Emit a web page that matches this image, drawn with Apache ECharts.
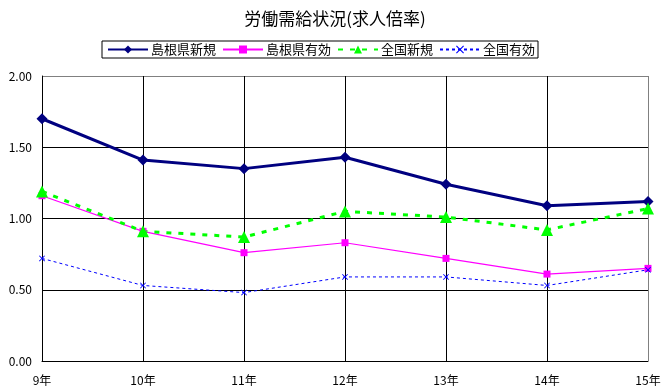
<!DOCTYPE html>
<html><head><meta charset="utf-8">
<script src="https://cdn.jsdelivr.net/npm/echarts@6/dist/echarts.min.js"></script>
<style>html,body{margin:0;padding:0;background:#fff}#c{width:670px;height:392px}</style>
</head><body><div id="c"></div>
<script>
const categories = ['9年','10年','11年','12年','13年','14年','15年'];
const shimaneNew = [1.70, 1.41, 1.35, 1.43, 1.24, 1.09, 1.12];
const shimaneActive = [1.16, 0.91, 0.76, 0.83, 0.72, 0.61, 0.65];
const nationalNew = [1.19, 0.91, 0.87, 1.05, 1.01, 0.92, 1.07];
const nationalActive = [0.72, 0.53, 0.48, 0.59, 0.59, 0.53, 0.64];
const seriesNames = ['島根県新規','島根県有効','全国新規','全国有効'];

const font = '"Noto Sans CJK JP", "Noto Sans", sans-serif';
const xMark = 'path://M0,1L1,0L5,4L9,0L10,1L6,5L10,9L9,10L5,6L1,10L0,9L4,5Z';

const chart = echarts.init(document.getElementById('c'));
chart.setOption({
  animation: false,
  backgroundColor: '#fff',
  textStyle: { fontFamily: font, color: '#000' },
  title: {
    text: '労働需給状況(求人倍率)', left: 'center', top: 5,
    textStyle: { fontFamily: font, fontSize: 17, fontWeight: 'normal', color: '#000' }
  },
  legend: {
    top: 41, left: 102, width: 600,
    padding: [2, 3, 2, 5],
    borderColor: '#000', borderWidth: 1,
    itemWidth: 40, itemHeight: 10, itemGap: 6,
    textStyle: { fontFamily: font, fontSize: 13, color: '#000', padding: [0, 0, 0, -2] },
    data: seriesNames
  },
  grid: { left: 42, right: 22, top: 76, bottom: 31 },
  xAxis: {
    type: 'category', data: categories, boundaryGap: false,
    axisLine: { lineStyle: { color: '#000', width: 1 } },
    axisTick: { show: false },
    axisLabel: { color: '#000', fontSize: 12, fontFamily: font, margin: 13 },
    splitLine: { show: true, lineStyle: { color: ['#000','#000','#000','#000','#000','#000','#808080'], width: 1 } }
  },
  yAxis: {
    type: 'value', min: 0, max: 2, interval: 0.5,
    axisLine: { show: true, lineStyle: { color: '#000', width: 1 } },
    axisTick: { show: false },
    axisLabel: { color: '#000', fontSize: 12, fontFamily: font, margin: 10,
      formatter: v => v.toFixed(2) },
    splitLine: { show: true, lineStyle: { color: ['#000','#000','#000','#000','#808080'], width: 1 } }
  },
  series: [
    { name: seriesNames[0], type: 'line', data: shimaneNew,
      symbol: 'diamond', symbolSize: 11,
      itemStyle: { color: '#000080' }, lineStyle: { color: '#000080', width: 3 } },
    { name: seriesNames[1], type: 'line', data: shimaneActive,
      symbol: 'rect', symbolSize: 7,
      itemStyle: { color: '#FF00FF' }, lineStyle: { color: '#FF00FF', width: 1.2 } },
    { name: seriesNames[2], type: 'line', data: nationalNew,
      symbol: 'triangle', symbolSize: 12,
      itemStyle: { color: '#00FF00' }, lineStyle: { color: '#00FF00', width: 3, type: [5, 7] } },
    { name: seriesNames[3], type: 'line', data: nationalActive,
      symbol: xMark, symbolSize: 6,
      itemStyle: { color: '#0000FF' }, lineStyle: { color: '#0000FF', width: 1, type: [3, 3] } }
  ]
});
</script></body></html>
